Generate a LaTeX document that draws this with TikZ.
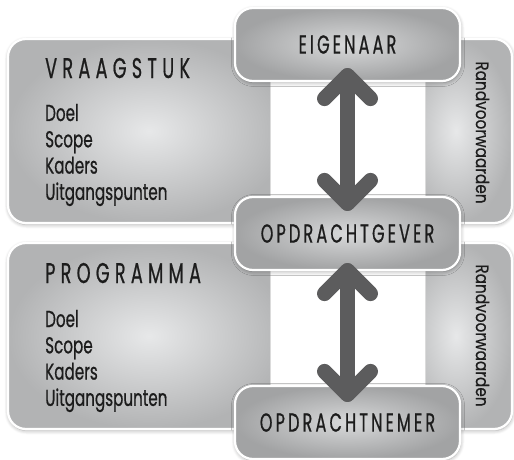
\documentclass[tikz,border=0pt]{standalone}
\usepackage{fontspec}
\setmainfont[FakeStretch=0.66,FakeBold=0.6]{Poppins}
\newfontfamily\headfont[FakeStretch=0.62,LetterSpace=18.5,FakeBold=0.6]{Poppins}
\newfontfamily\rolefont[FakeStretch=0.62,LetterSpace=12,FakeBold=0.6]{Poppins}
\newfontfamily\sidefont[FakeStretch=0.85,FakeBold=0.4]{Poppins}
\usetikzlibrary{calc,shadows.blur}
\definecolor{arrowgray}{HTML}{5C5C5D}
\definecolor{panelin}{HTML}{E7E8E9}
\definecolor{panelout}{HTML}{B2B3B4}
\definecolor{rolein}{HTML}{D8D9DA}
\definecolor{roleout}{HTML}{A2A3A4}
\definecolor{textdark}{HTML}{1C1C1C}
\tikzset{
  softshadow/.style={blur shadow={shadow blur steps=6, shadow xshift=0.5pt, shadow yshift=-1.5pt, shadow blur radius=4pt, shadow opacity=35}},
  panel/.style={rounded corners=18pt, draw=white, line width=2.2pt, inner color=panelin, outer color=panelout, softshadow, inner sep=0pt},
  gapbox/.style={fill=white, draw=black!14, line width=0.8pt, minimum width=155pt, inner sep=0pt},
  role/.style={rounded corners=18pt, draw=white, line width=2.2pt, inner color=rolein, outer color=roleout, softshadow,
    minimum width=225pt, minimum height=73pt, inner sep=0pt, text=textdark, font=\rolefont\fontsize{26}{26}\selectfont},
  heading/.style={anchor=base west, inner sep=0pt, text=textdark, font=\headfont\fontsize{28.5}{28.5}\selectfont},
  item/.style={anchor=base west, inner sep=0pt, text=textdark, font=\fontsize{23}{23}\selectfont},
  side/.style={rotate=-90, inner sep=0pt, text=textdark, font=\sidefont\fontsize{18}{18}\selectfont},
  bigarrow/.style={draw=arrowgray, line width=15pt, line cap=round, line join=round}
}
\begin{document}
\begin{tikzpicture}[x=1pt,y=-1pt]
\useasboundingbox (0,0) rectangle (514,460);
% panels
\node[panel, minimum width=282pt, minimum height=184pt] (vraag) at (149,131) {};
\node[panel, minimum width=112pt, minimum height=184pt] (randA) at (456,131) {};
\node[panel, minimum width=282pt, minimum height=186pt] (prog) at (149,336) {};
\node[panel, minimum width=112pt, minimum height=186pt] (randB) at (456,336) {};
% white gaps
\node[gapbox, minimum height=130pt] (gapA) at (347.5,139) {};
\node[gapbox, minimum height=130pt] (gapB) at (347.5,328.5) {};
% role boxes
\node[role] (eig) at (347.5,44.5) {EIGENAAR};
\node[role] (gev) at (347.5,233.5) {OPDRACHTGEVER};
\node[role] (nem) at (347.5,422.5) {OPDRACHTNEMER};
% texts
\node[heading] (vt) at (45,78) {VRAAGSTUK};
\node[heading] (pt) at (45,283) {PROGRAMMA};
\foreach \t [count=\i] in {Doel,Scope,Kaders,Uitgangspunten} {
  \node[item] (va\i) at (45,{121+26.3*(\i-1)}) {\t};
  \node[item] (pa\i) at (45,{327+26.3*(\i-1)}) {\t};
}
\node[side] (rA) at (482.5,132.5) {Randvoorwaarden};
\node[side] (rB) at (482.5,335.5) {Randvoorwaarden};
% arrows
\coordinate (t1) at ([yshift=6.5pt]eig.south);
\coordinate (b1) at ([yshift=-7.5pt]gev.north);
\coordinate (t2) at ([yshift=0.5pt]gev.south);
\coordinate (b2) at ([yshift=-9.5pt]nem.north);
\draw[bigarrow] (t1) -- (b1);
\draw[bigarrow] ($(t1)+(-23,23)$) -- (t1) -- ($(t1)+(23,23)$);
\draw[bigarrow] ($(b1)+(-23,-23)$) -- (b1) -- ($(b1)+(23,-23)$);
\draw[bigarrow] (t2) -- (b2);
\draw[bigarrow] ($(t2)+(-23,23)$) -- (t2) -- ($(t2)+(23,23)$);
\draw[bigarrow] ($(b2)+(-23,-23)$) -- (b2) -- ($(b2)+(23,-23)$);
\end{tikzpicture}
\end{document}
